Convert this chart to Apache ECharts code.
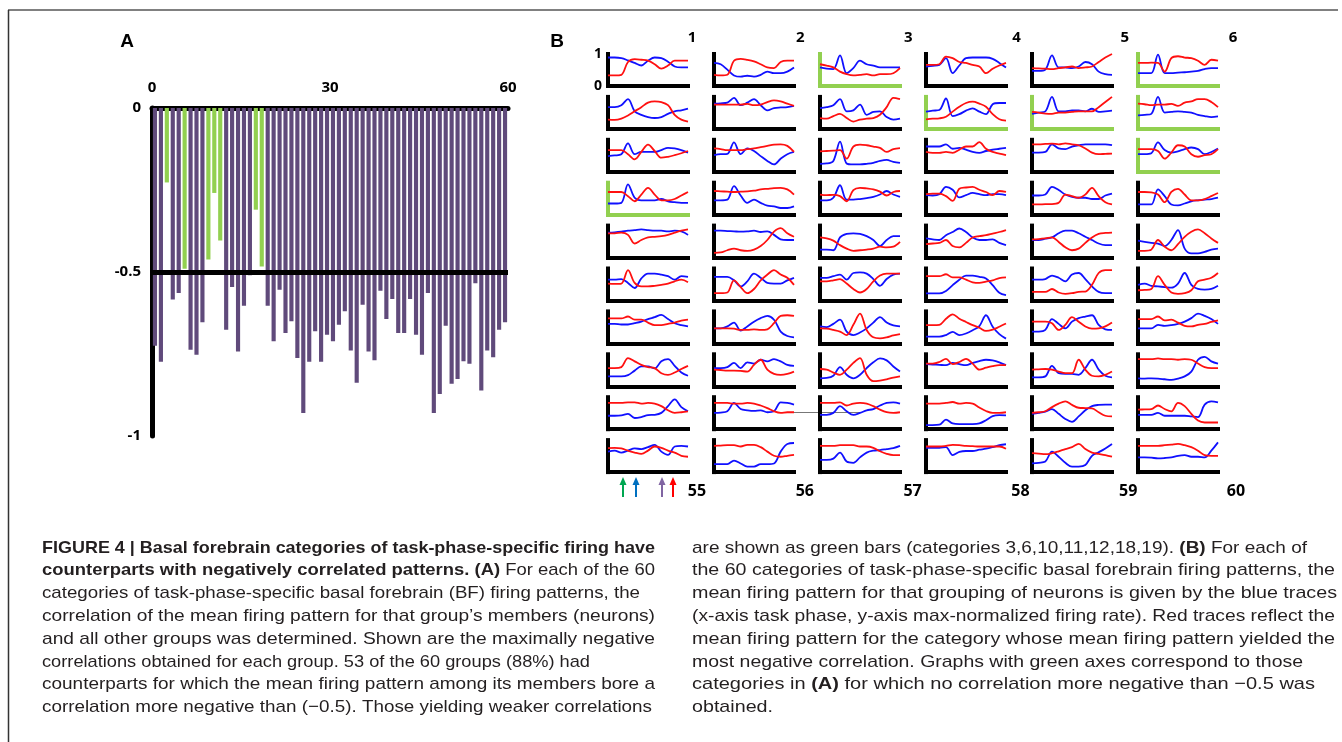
<!DOCTYPE html>
<html>
<head>
<meta charset="utf-8">
<script src="https://cdn.jsdelivr.net/npm/echarts@6/dist/echarts.min.js"></script>
<style>
  html, body { margin: 0; padding: 0; background: #fff; }
  #chart { width: 1342px; height: 742px; }
</style>
</head>
<body>
<div id="chart"></div>
<script>
// Panel A: most negative correlation found for each of the 60 categories
const categories = Array.from({ length: 60 }, (_, i) => String(i + 1));
const correlations = [
  -0.725, -0.774, -0.227, -0.584, -0.564, -0.490, -0.737, -0.752, -0.653, -0.462,
  -0.259, -0.404, -0.676, -0.546, -0.742, -0.603, -0.510, -0.310, -0.483, -0.603,
  -0.711, -0.554, -0.686, -0.650, -0.762, -0.930, -0.774, -0.681, -0.774, -0.691,
  -0.711, -0.661, -0.620, -0.739, -0.838, -0.600, -0.742, -0.769, -0.557, -0.643,
  -0.582, -0.686, -0.686, -0.582, -0.691, -0.752, -0.564, -0.930, -0.872, -0.664,
  -0.841, -0.826, -0.772, -0.780, -0.534, -0.861, -0.739, -0.760, -0.676, -0.653
];
// categories with no correlation below -0.5 (green bars / green axes)
const greenCats = [3, 6, 10, 11, 12, 18, 19];
const threshold = -0.5;

// Panel B: 13 task-phase samples per trace, max-normalized rate
const phaseTicks = ['0', '1', '2', '3', '4', '5', '6', '7', '8', '9', '10', '11', '12'];
const blueTraces = [
  [0.89,0.89,0.87,0.80,0.72,0.64,0.79,0.89,0.87,0.76,0.61,0.58,0.58],
  [0.72,0.68,0.51,0.33,0.29,0.32,0.29,0.35,0.45,0.40,0.40,0.45,0.58],
  [0.58,0.54,0.53,0.96,0.40,0.56,0.79,0.68,0.64,0.58,0.58,0.58,0.58],
  [0.61,0.63,0.66,0.87,0.40,0.64,0.87,0.89,0.89,0.89,0.85,0.72,0.58],
  [0.47,0.47,0.51,0.96,0.58,0.58,0.56,0.61,0.75,0.68,0.45,0.37,0.35],
  [0.40,0.40,0.40,0.98,0.40,0.40,0.42,0.43,0.45,0.47,0.53,0.56,0.56],
  [0.68,0.68,0.74,0.93,0.55,0.44,0.37,0.34,0.37,0.47,0.55,0.58,0.63],
  [0.79,0.80,0.82,0.97,0.74,0.82,0.93,0.74,0.58,0.65,0.67,0.68,0.72],
  [0.65,0.68,0.74,0.93,0.55,0.58,0.76,0.44,0.53,0.55,0.37,0.29,0.32],
  [0.54,0.57,0.59,0.95,0.40,0.46,0.57,0.64,0.54,0.46,0.77,0.81,0.81],
  [0.47,0.51,0.55,1.00,0.55,0.55,0.58,0.58,0.55,0.63,0.53,0.55,0.57],
  [0.42,0.44,0.47,1.00,0.51,0.53,0.55,0.53,0.51,0.44,0.40,0.37,0.39],
  [0.49,0.51,0.55,0.89,0.55,0.62,0.62,0.62,0.68,0.75,0.73,0.68,0.60],
  [0.52,0.55,0.56,0.92,0.55,0.73,0.65,0.49,0.34,0.23,0.41,0.55,0.62],
  [0.25,0.26,0.34,0.94,0.26,0.23,0.23,0.25,0.28,0.34,0.37,0.31,0.28],
  [0.79,0.79,0.79,0.86,0.72,0.75,0.69,0.62,0.59,0.65,0.69,0.72,0.75],
  [0.60,0.60,0.62,0.86,0.73,0.71,0.79,0.83,0.86,0.86,0.86,0.86,0.83],
  [0.55,0.55,0.58,0.92,0.68,0.60,0.64,0.71,0.76,0.71,0.55,0.62,0.73],
  [0.35,0.35,0.37,0.95,0.53,0.45,0.45,0.45,0.49,0.42,0.39,0.37,0.37],
  [0.45,0.45,0.47,0.89,0.60,0.37,0.47,0.37,0.28,0.26,0.21,0.21,0.26],
  [0.45,0.45,0.53,0.92,0.47,0.47,0.49,0.52,0.56,0.63,0.74,0.63,0.56],
  [0.61,0.60,0.64,0.87,0.78,0.54,0.61,0.68,0.64,0.61,0.64,0.64,0.61],
  [0.60,0.60,0.63,0.87,0.77,0.63,0.56,0.53,0.53,0.49,0.49,0.60,0.66],
  [0.32,0.32,0.32,0.79,0.58,0.32,0.29,0.35,0.42,0.45,0.47,0.49,0.53],
  [0.78,0.79,0.81,0.84,0.86,0.88,0.86,0.84,0.84,0.82,0.84,0.82,0.71],
  [0.84,0.84,0.83,0.82,0.81,0.82,0.84,0.80,0.82,0.71,0.57,0.55,0.55],
  [0.25,0.25,0.23,0.63,0.74,0.76,0.74,0.67,0.55,0.36,0.55,0.67,0.67],
  [0.60,0.57,0.55,0.70,0.80,0.91,0.80,0.63,0.55,0.55,0.57,0.46,0.39],
  [0.55,0.55,0.59,0.63,0.76,0.84,0.84,0.76,0.65,0.55,0.44,0.39,0.39],
  [0.53,0.49,0.46,0.44,0.36,0.55,0.86,0.28,0.13,0.13,0.18,0.25,0.28],
  [0.65,0.65,0.67,0.55,0.39,0.69,0.84,0.84,0.81,0.76,0.65,0.76,0.74],
  [0.74,0.74,0.74,0.63,0.44,0.60,0.84,0.71,0.55,0.53,0.53,0.63,0.71],
  [0.71,0.71,0.76,0.81,0.65,0.86,0.88,0.84,0.67,0.46,0.67,0.81,0.84],
  [0.22,0.22,0.22,0.30,0.48,0.65,0.78,0.78,0.74,0.69,0.48,0.24,0.17],
  [0.65,0.65,0.67,0.78,0.71,0.60,0.81,0.86,0.67,0.44,0.27,0.23,0.23],
  [0.49,0.53,0.46,0.44,0.42,0.40,0.53,0.86,0.49,0.36,0.34,0.36,0.46],
  [0.61,0.61,0.59,0.59,0.63,0.68,0.76,0.82,0.89,0.76,0.63,0.57,0.53],
  [0.47,0.47,0.53,0.65,0.40,0.53,0.68,0.79,0.86,0.74,0.37,0.23,0.19],
  [0.53,0.51,0.61,0.74,0.37,0.26,0.34,0.47,0.65,0.82,0.65,0.56,0.53],
  [0.21,0.21,0.21,0.26,0.36,0.26,0.31,0.41,0.54,0.88,0.52,0.29,0.15],
  [0.37,0.37,0.42,0.76,0.61,0.47,0.68,0.79,0.84,0.88,0.58,0.44,0.42],
  [0.47,0.47,0.47,0.58,0.55,0.57,0.61,0.68,0.79,0.93,0.86,0.76,0.61],
  [0.31,0.31,0.31,0.35,0.49,0.62,0.62,0.56,0.78,0.85,0.64,0.43,0.33],
  [0.57,0.57,0.60,0.73,0.57,0.75,0.71,0.83,0.78,0.85,0.78,0.67,0.64],
  [0.25,0.26,0.33,0.60,0.36,0.25,0.36,0.57,0.75,0.87,0.81,0.62,0.46],
  [0.69,0.68,0.67,0.66,0.73,0.69,0.66,0.73,0.79,0.83,0.81,0.75,0.66],
  [0.28,0.28,0.31,0.64,0.41,0.39,0.39,0.36,0.57,0.83,0.52,0.33,0.28],
  [0.25,0.24,0.25,0.24,0.22,0.20,0.24,0.31,0.46,0.83,0.92,0.78,0.71],
  [0.42,0.42,0.43,0.48,0.35,0.38,0.44,0.45,0.51,0.72,0.93,0.69,0.56],
  [0.51,0.52,0.56,0.82,0.63,0.59,0.57,0.59,0.53,0.56,0.84,0.82,0.77],
  [0.45,0.45,0.51,0.72,0.56,0.45,0.51,0.59,0.63,0.74,0.82,0.84,0.80],
  [0.13,0.13,0.14,0.30,0.18,0.16,0.16,0.16,0.18,0.28,0.41,0.44,0.43],
  [0.48,0.51,0.55,0.63,0.48,0.32,0.23,0.40,0.59,0.72,0.76,0.77,0.77],
  [0.45,0.45,0.45,0.51,0.42,0.42,0.42,0.42,0.40,0.38,0.77,0.87,0.84],
  [0.64,0.67,0.61,0.67,0.74,0.72,0.78,0.85,0.64,0.54,0.80,0.82,0.80],
  [0.25,0.25,0.25,0.36,0.27,0.17,0.17,0.25,0.25,0.27,0.64,0.88,0.91],
  [0.38,0.38,0.42,0.61,0.33,0.29,0.46,0.61,0.67,0.69,0.72,0.75,0.82],
  [0.76,0.76,0.76,0.78,0.53,0.63,0.66,0.66,0.70,0.73,0.78,0.84,0.87],
  [0.27,0.29,0.33,0.64,0.48,0.29,0.17,0.17,0.22,0.51,0.62,0.74,0.88],
  [0.46,0.46,0.45,0.43,0.44,0.46,0.51,0.53,0.48,0.48,0.46,0.67,0.93]
];
const redTraces = [
  [0.33,0.33,0.35,0.75,0.84,0.82,0.79,0.68,0.54,0.64,0.79,0.79,0.79],
  [0.35,0.33,0.35,0.79,0.85,0.82,0.77,0.68,0.58,0.56,0.75,0.79,0.79],
  [0.68,0.64,0.58,0.45,0.37,0.33,0.35,0.37,0.33,0.37,0.37,0.40,0.56],
  [0.66,0.66,0.68,0.92,0.87,0.75,0.72,0.66,0.61,0.40,0.54,0.64,0.72],
  [0.56,0.55,0.54,0.53,0.56,0.58,0.61,0.56,0.58,0.61,0.75,0.89,1.00],
  [0.72,0.72,0.73,0.72,0.45,0.87,0.93,0.89,0.87,0.79,0.66,0.82,0.79],
  [0.29,0.28,0.32,0.42,0.55,0.68,0.82,0.86,0.84,0.74,0.44,0.29,0.23],
  [0.76,0.76,0.76,0.76,0.76,0.78,0.74,0.76,0.84,0.89,0.86,0.79,0.72],
  [0.34,0.32,0.40,0.47,0.34,0.23,0.29,0.32,0.34,0.44,0.68,0.97,0.93],
  [0.30,0.32,0.33,0.38,0.54,0.69,0.81,0.85,0.79,0.69,0.46,0.30,0.26],
  [0.53,0.51,0.48,0.47,0.51,0.51,0.53,0.55,0.55,0.55,0.68,0.84,1.00],
  [0.79,0.77,0.74,0.76,0.76,0.78,0.72,0.82,0.86,0.93,0.93,0.84,0.68],
  [0.68,0.68,0.68,0.55,0.39,0.62,0.85,0.65,0.44,0.47,0.52,0.58,0.65],
  [0.73,0.71,0.68,0.68,0.68,0.71,0.73,0.77,0.81,0.85,0.86,0.81,0.62],
  [0.64,0.65,0.66,0.68,0.41,0.79,0.85,0.83,0.79,0.75,0.62,0.71,0.74],
  [0.62,0.59,0.59,0.62,0.59,0.69,0.79,0.79,0.93,0.72,0.62,0.57,0.52],
  [0.86,0.86,0.87,0.88,0.86,0.89,0.86,0.83,0.73,0.60,0.55,0.56,0.57],
  [0.71,0.71,0.71,0.65,0.41,0.60,0.83,0.79,0.55,0.47,0.52,0.55,0.71],
  [0.71,0.71,0.71,0.58,0.42,0.63,0.84,0.63,0.45,0.45,0.49,0.60,0.71],
  [0.74,0.73,0.72,0.71,0.72,0.73,0.75,0.79,0.81,0.83,0.84,0.79,0.63],
  [0.63,0.61,0.62,0.58,0.42,0.77,0.84,0.82,0.79,0.72,0.60,0.71,0.74],
  [0.64,0.66,0.66,0.58,0.43,0.81,0.85,0.87,0.78,0.71,0.61,0.74,0.71],
  [0.32,0.32,0.33,0.33,0.37,0.63,0.58,0.53,0.63,0.84,0.58,0.39,0.32],
  [0.71,0.71,0.70,0.63,0.39,0.71,0.81,0.63,0.45,0.45,0.49,0.58,0.68],
  [0.76,0.76,0.78,0.71,0.44,0.55,0.63,0.65,0.67,0.71,0.78,0.84,0.88],
  [0.15,0.16,0.23,0.28,0.23,0.21,0.25,0.36,0.55,0.81,0.92,0.76,0.65],
  [0.63,0.60,0.53,0.39,0.28,0.21,0.23,0.25,0.28,0.34,0.32,0.34,0.49],
  [0.42,0.44,0.46,0.55,0.36,0.32,0.46,0.63,0.67,0.70,0.75,0.80,0.86],
  [0.57,0.58,0.60,0.63,0.49,0.32,0.23,0.28,0.46,0.63,0.74,0.77,0.78],
  [0.21,0.21,0.25,0.55,0.34,0.23,0.42,0.65,0.81,0.88,0.76,0.60,0.46],
  [0.53,0.52,0.53,0.95,0.55,0.44,0.44,0.46,0.49,0.53,0.60,0.65,0.57],
  [0.23,0.23,0.25,0.63,0.42,0.23,0.36,0.63,0.81,0.95,0.81,0.71,0.49],
  [0.60,0.60,0.63,0.67,0.53,0.36,0.25,0.36,0.60,0.78,0.84,0.84,0.84],
  [0.76,0.76,0.76,0.82,0.72,0.72,0.65,0.57,0.55,0.59,0.63,0.70,0.72],
  [0.27,0.27,0.27,0.36,0.25,0.21,0.23,0.27,0.28,0.49,0.86,0.95,0.95],
  [0.32,0.33,0.36,0.76,0.49,0.25,0.21,0.23,0.32,0.60,0.65,0.71,0.86],
  [0.78,0.78,0.78,0.84,0.74,0.74,0.65,0.57,0.57,0.61,0.65,0.71,0.74],
  [0.47,0.47,0.47,0.46,0.42,0.42,0.44,0.42,0.44,0.63,0.86,0.88,0.86],
  [0.47,0.46,0.42,0.37,0.26,0.58,0.93,0.42,0.19,0.16,0.19,0.25,0.29],
  [0.57,0.57,0.58,0.77,0.91,0.77,0.67,0.57,0.49,0.39,0.43,0.52,0.62],
  [0.68,0.68,0.68,0.63,0.42,0.58,0.82,0.68,0.53,0.46,0.47,0.53,0.65],
  [0.76,0.76,0.76,0.84,0.72,0.74,0.65,0.55,0.53,0.58,0.61,0.67,0.72],
  [0.57,0.57,0.60,0.88,0.78,0.67,0.60,0.57,0.41,0.36,0.43,0.54,0.64],
  [0.52,0.51,0.49,0.49,0.48,0.46,0.67,0.83,0.52,0.39,0.36,0.39,0.46],
  [0.54,0.52,0.43,0.36,0.52,0.73,0.88,0.36,0.16,0.18,0.22,0.27,0.31],
  [0.71,0.71,0.76,0.86,0.69,0.76,0.86,0.71,0.52,0.58,0.63,0.66,0.66],
  [0.52,0.53,0.54,0.52,0.46,0.41,0.41,0.83,0.52,0.33,0.31,0.36,0.46],
  [0.85,0.85,0.85,0.87,0.85,0.85,0.83,0.85,0.83,0.71,0.60,0.57,0.57],
  [0.82,0.82,0.82,0.84,0.84,0.80,0.82,0.80,0.72,0.59,0.51,0.53,0.56],
  [0.82,0.82,0.82,0.80,0.80,0.82,0.80,0.74,0.66,0.56,0.51,0.53,0.53],
  [0.82,0.82,0.82,0.84,0.74,0.80,0.82,0.80,0.72,0.61,0.53,0.51,0.53],
  [0.80,0.80,0.80,0.82,0.85,0.80,0.82,0.80,0.68,0.57,0.51,0.51,0.53],
  [0.51,0.53,0.56,0.69,0.80,0.87,0.76,0.67,0.66,0.65,0.53,0.42,0.40],
  [0.61,0.62,0.63,0.74,0.63,0.56,0.82,0.72,0.48,0.27,0.21,0.21,0.21],
  [0.75,0.76,0.74,0.67,0.61,0.57,0.67,0.80,0.76,0.67,0.61,0.51,0.48],
  [0.82,0.83,0.84,0.84,0.80,0.85,0.85,0.78,0.64,0.51,0.48,0.51,0.54],
  [0.82,0.82,0.82,0.84,0.84,0.84,0.80,0.80,0.76,0.65,0.57,0.53,0.53],
  [0.80,0.80,0.80,0.82,0.85,0.84,0.82,0.81,0.80,0.80,0.80,0.80,0.73],
  [0.59,0.58,0.56,0.59,0.65,0.72,0.78,0.88,0.72,0.61,0.57,0.53,0.48],
  [0.82,0.82,0.82,0.82,0.84,0.86,0.88,0.84,0.78,0.67,0.53,0.51,0.51]
];

// Labels
const xTickLabelsA = [0, 30, 60];
const colTopLabels = ['1', '2', '3', '4', '5', '6'];
const colBottomLabels = ['55', '56', '57', '58', '59', '60'];
const leftCaption = [
  '{b|FIGURE 4 | Basal forebrain categories of task-phase-specific firing have}',
  '{b|counterparts with negatively correlated patterns. (A)} For each of the 60',
  'categories of task-phase-specific basal forebrain (BF) firing patterns, the',
  'correlation of the mean firing pattern for that group\u2019s members (neurons)',
  'and all other groups was determined. Shown are the maximally negative',
  'correlations obtained for each group. 53 of the 60 groups (88%) had',
  'counterparts for which the mean firing pattern among its members bore a',
  'correlation more negative than (\u22120.5). Those yielding weaker correlations'
];
const rightCaption = [
  'are shown as green bars (categories 3,6,10,11,12,18,19). {b|(B)} For each of',
  'the 60 categories of task-phase-specific basal forebrain firing patterns, the',
  'mean firing pattern for that grouping of neurons is given by the blue traces',
  '(x-axis task phase, y-axis max-normalized firing rate). Red traces reflect the',
  'mean firing pattern for the category whose mean firing pattern yielded the',
  'most negative correlation. Graphs with green axes correspond to those',
  'categories in {b|(A)} for which no correlation more negative than \u22120.5 was',
  'obtained.'
];
// line widths in the printed caption (px)
const leftLineWidths = [613, 613, 598, 613, 613, 548, 613, 610];
const rightLineWidths = [615, 643, 645, 643, 643, 611, 623, 81];

// 颜色
const PURPLE = '#604a7b';
const GREEN = '#92d050';
const BLUE = '#1010ff';
const RED = '#ff1010';
const CAPTION_FONT = '"Liberation Sans", Arial, sans-serif';
const CAPTION_SIZE = 17;

// 测量文字宽度（粗体片段单独计算）
const ctx = document.createElement('canvas').getContext('2d');
function lineWidth(text) {
  let w = 0;
  text.split(/(\{b\|[^}]*\})/).forEach(part => {
    if (!part) return;
    const m = part.match(/^\{b\|([^}]*)\}$/);
    ctx.font = (m ? 'bold ' : '') + CAPTION_SIZE + 'px "Liberation Sans"';
    w += ctx.measureText(m ? m[1] : part).width;
  });
  return w;
}

const chart = echarts.init(document.getElementById('chart'));

const grids = [{ left: 152, top: 108, width: 356, height: 328 }];
const xAxes = [
  {
    type: 'category', gridIndex: 0, data: categories, position: 'top',
    axisLine: { lineStyle: { color: '#000', width: 5 } },
    axisTick: { show: false }, axisLabel: { show: false }
  },
  {
    type: 'value', gridIndex: 0, min: 0, max: 60, interval: 30, position: 'top',
    axisLine: { show: false }, axisTick: { show: false }, splitLine: { show: false },
    axisLabel: {
      color: '#000', fontWeight: 'bold', fontSize: 15, margin: 13,
      fontFamily: '"Open Sans", sans-serif',
      formatter: v => (xTickLabelsA.includes(v) ? String(v) : '')
    }
  }
];
const yAxes = [
  {
    type: 'value', gridIndex: 0, min: -1, max: 0, interval: 0.5,
    axisLine: { show: true, onZero: false, lineStyle: { color: '#000', width: 5 } },
    axisTick: { show: false }, splitLine: { show: false },
    axisLabel: {
      color: '#000', fontWeight: 'bold', fontSize: 15, margin: 11,
      fontFamily: '"Open Sans", sans-serif',
      formatter: v => String(v)
    }
  }
];
const series = [
  {
    type: 'bar', xAxisIndex: 0, yAxisIndex: 0,
    barCategoryGap: '30%',
    data: correlations.map((v, i) => ({
      value: v,
      itemStyle: { color: greenCats.includes(i + 1) ? GREEN : PURPLE }
    })),
    markLine: {
      silent: true, symbol: 'none', label: { show: false },
      lineStyle: { color: '#000', width: 5, type: 'solid' },
      data: [{ yAxis: threshold }]
    }
  }
];

// 60 small panels, 6 per row
for (let i = 0; i < 60; i++) {
  const r = Math.floor(i / 6);
  const c = i % 6;
  const axisColor = greenCats.includes(i + 1) ? GREEN : '#000';
  const baseline = 86 + r * 42.9;
  grids.push({ left: 608 + c * 106, top: baseline - 32, width: 80, height: 32 });
  xAxes.push({
    type: 'category', gridIndex: i + 1, data: phaseTicks, boundaryGap: false,
    axisLine: { onZero: false, lineStyle: { color: axisColor, width: 4, cap: 'square' } },
    axisTick: { show: false }, axisLabel: { show: false }, splitLine: { show: false }
  });
  yAxes.push({
    type: 'value', gridIndex: i + 1, min: 0, max: 1, interval: 1,
    axisLine: { show: true, onZero: false, lineStyle: { color: axisColor, width: 4, cap: 'square' } },
    axisTick: { show: false }, splitLine: { show: false },
    axisLabel: {
      show: i === 0, color: '#000', fontWeight: 'bold', fontSize: 14, margin: 6,
      fontFamily: '"Open Sans", sans-serif'
    }
  });
  [[blueTraces[i], BLUE], [redTraces[i], RED]].forEach(([data, color]) => {
    series.push({
      type: 'line', xAxisIndex: i + 2, yAxisIndex: i + 1, data: data,
      showSymbol: false, smooth: 0.35, clip: false, silent: true,
      lineStyle: { color: color, width: 1.8 }, itemStyle: { color: color }
    });
  });
}

// 文字和标注
const graphics = [
  // figure frame
  { type: 'line', shape: { x1: 8, y1: 10, x2: 1338, y2: 10 }, style: { stroke: '#808080', lineWidth: 2 } },
  { type: 'line', shape: { x1: 8.5, y1: 10, x2: 8.5, y2: 742 }, style: { stroke: '#333', lineWidth: 1.5 } },
  { type: 'text', x: 127, y: 42, style: { text: 'A', font: 'bold 19px Arial, "Liberation Sans"', fill: '#000', align: 'center', verticalAlign: 'middle' } },
  { type: 'text', x: 557, y: 42, style: { text: 'B', font: 'bold 19px Arial, "Liberation Sans"', fill: '#000', align: 'center', verticalAlign: 'middle' } },
  // stray connector line in the original scan
  { type: 'line', shape: { x1: 780, y1: 412.5, x2: 862, y2: 412.5 }, style: { stroke: '#777', lineWidth: 1 } }
];
colTopLabels.forEach((t, c) => {
  graphics.push({ type: 'text', x: 692 + c * 108.2, y: 38, style: { text: t, font: 'bold 15px "Open Sans", sans-serif', fill: '#000', align: 'center', verticalAlign: 'middle' } });
});
colBottomLabels.forEach((t, c) => {
  graphics.push({ type: 'text', x: 697 + c * 107.8, y: 491, style: { text: t, font: 'bold 16px "Open Sans", sans-serif', fill: '#000', align: 'center', verticalAlign: 'middle' } });
});
// task-phase arrows under panel 55
const arrowColors = ['#00a651', '#0070c0', '#8064a2', '#ff0000'];
const arrowX = [623, 636, 662, 673];
arrowX.forEach((x, k) => {
  graphics.push({ type: 'line', shape: { x1: x, y1: 497, x2: x, y2: 483 }, style: { stroke: arrowColors[k], lineWidth: 2 } });
  graphics.push({ type: 'polygon', shape: { points: [[x - 3.5, 485], [x + 3.5, 485], [x, 477]] }, style: { fill: arrowColors[k] } });
});
// caption, each line condensed to its printed width
const richStyle = { b: { fontWeight: 'bold', fontSize: CAPTION_SIZE, fontFamily: CAPTION_FONT, fill: '#231f20' } };
function captionLine(t, x, y, target) {
  return {
    type: 'text', x: x, y: y, scaleX: target / lineWidth(t),
    style: { text: t, rich: richStyle, fontSize: CAPTION_SIZE, fontFamily: CAPTION_FONT, fill: '#231f20', verticalAlign: 'middle' }
  };
}
leftCaption.forEach((t, k) => graphics.push(captionLine(t, 42, 548 + k * 22.8, leftLineWidths[k])));
rightCaption.forEach((t, k) => graphics.push(captionLine(t, 692, 548 + k * 22.8, rightLineWidths[k])));

chart.setOption({
  animation: false,
  backgroundColor: '#fff',
  grid: grids,
  xAxis: xAxes,
  yAxis: yAxes,
  series: series,
  graphic: { elements: graphics }
});

window.addEventListener('resize', () => chart.resize());
</script>
</body>
</html>
